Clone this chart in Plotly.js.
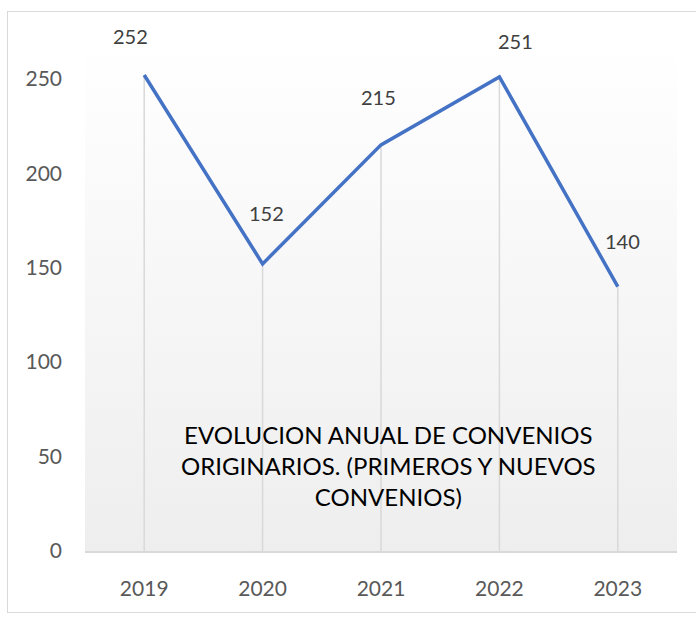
<!DOCTYPE html>
<html>
<head>
<meta charset="utf-8">
<script src="https://cdn.plot.ly/plotly-3.0.1.min.js"></script>
<style>
  html, body { margin: 0; padding: 0; background: #ffffff; }
  #wrap { position: relative; width: 696px; height: 617px; overflow: hidden; }
  #frame { position: absolute; left: 7px; top: 11px; width: 720px; height: 602px; border: 1.5px solid #d9d9d9; box-sizing: border-box; pointer-events: none; }
  #chart { position: absolute; left: 0; top: 0; width: 696px; height: 617px; }
</style>
</head>
<body>
<div id="wrap">
  <div id="chart"></div>
  <div id="frame"></div>
</div>
<script>
const years = ['2019', '2020', '2021', '2022', '2023'];
const convenios = [252, 152, 215, 251, 140];
const zeros = [0, 0, 0, 0, 0];
const yTicks = [0, 50, 100, 150, 200, 250];
const titleText = 'EVOLUCION ANUAL DE CONVENIOS<br>ORIGINARIOS. (PRIMEROS Y NUEVOS<br>CONVENIOS)';

// label offsets (px) – styling only
const labelXShift = [-14, 4, -3, 16, 5];
const labelYShift = [39, 51, 48, 36, 46];

const gradSvg = '<svg xmlns="http://www.w3.org/2000/svg" width="10" height="100" preserveAspectRatio="none">' +
  '<defs><linearGradient id="g" x1="0" y1="0" x2="0" y2="1">' +
  '<stop offset="0" stop-color="#ffffff"/><stop offset="1" stop-color="#eeeeee"/>' +
  '</linearGradient></defs><rect width="10" height="100" fill="url(#g)"/></svg>';
const gradUri = 'data:image/svg+xml;base64,' + btoa(gradSvg);

const dropLines = {
  x: years, y: convenios, type: 'scatter', mode: 'markers',
  marker: { size: 1, opacity: 0 },
  error_y: { type: 'data', symmetric: false, array: zeros, arrayminus: convenios,
             width: 0, thickness: 1.5, color: '#d9d9d9' },
  hoverinfo: 'skip', showlegend: false
};

const lineTrace = {
  x: years, y: convenios, type: 'scatter', mode: 'lines',
  line: { color: '#4472C4', width: 3.5 },
  showlegend: false
};

// category index used for x so numeric-looking year strings are not read as positions
const annotations = years.map((yr, i) => ({
  x: i, y: convenios[i], xref: 'x', yref: 'y',
  text: String(convenios[i]), showarrow: false,
  xshift: labelXShift[i], yshift: labelYShift[i],
  font: { family: 'Lato, sans-serif', size: 20, color: '#404040' }
}));
annotations.push({
  xref: 'paper', yref: 'paper', x: 0.512, y: 0.167,
  xanchor: 'center', yanchor: 'middle', align: 'center',
  text: titleText, showarrow: false,
  font: { family: 'Lato, sans-serif', size: 24, color: '#000000' }
});

const layout = {
  width: 696, height: 617,
  margin: { l: 85, r: 19, t: 41, b: 66, pad: 0 },
  paper_bgcolor: 'rgba(0,0,0,0)',
  plot_bgcolor: 'rgba(0,0,0,0)',
  showlegend: false,
  font: { family: 'Lato, sans-serif', color: '#595959' },
  xaxis: {
    type: 'category', range: [-0.5, 4.5],
    showgrid: false, zeroline: false,
    showline: true, linecolor: '#d9d9d9', linewidth: 1.5,
    ticks: '', ticklabelstandoff: 18,
    tickfont: { family: 'Lato, sans-serif', size: 21, color: '#595959' }
  },
  yaxis: {
    range: [0, 270], tickvals: yTicks, ticktext: yTicks.map(String),
    showgrid: false, zeroline: false, showline: false,
    ticks: '', ticklabelstandoff: 22,
    tickfont: { family: 'Lato, sans-serif', size: 21, color: '#595959' }
  },
  images: [{
    source: gradUri, xref: 'paper', yref: 'paper',
    x: 0, y: 1, sizex: 1, sizey: 1, sizing: 'stretch',
    xanchor: 'left', yanchor: 'top', layer: 'below'
  }],
  annotations: annotations
};

Plotly.newPlot('chart', [dropLines, lineTrace], layout, { displayModeBar: false, staticPlot: true });
</script>
</body>
</html>
